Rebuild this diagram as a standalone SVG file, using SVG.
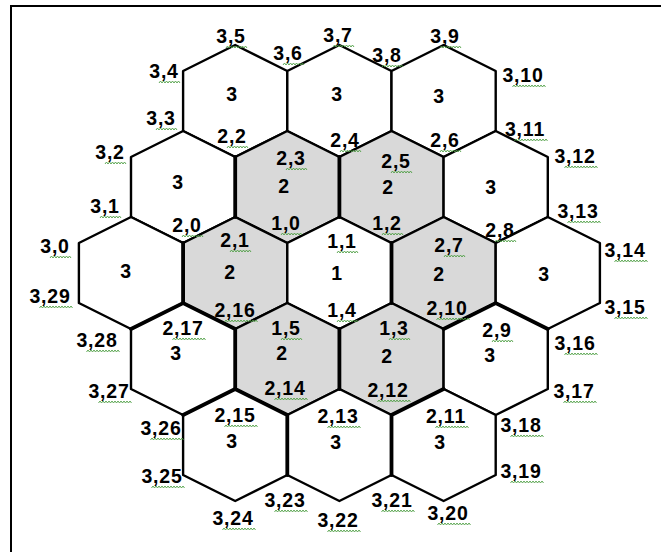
<svg xmlns="http://www.w3.org/2000/svg" xmlns:xlink="http://www.w3.org/1999/xlink" width="661" height="552" viewBox="0 0 661 552">
<style>
.hx{fill:#ffffff;stroke:#000;stroke-width:2.4;stroke-linejoin:round}
.g{fill:#d9d9d9}
.thick{fill:none;stroke:#000;stroke-width:3.8;stroke-linecap:round}
text{font-family:"Liberation Sans",Arial,sans-serif;font-weight:bold;font-size:19.5px;text-anchor:middle;letter-spacing:0.8px;fill:#000}
.sq{fill:none;stroke:#4f9f45;stroke-width:0.9}
</style>
<defs>
<path id="s2" class="sq" d="M0,2 l1.5,-2 l1.5,2 l1.5,-2 l1.5,2 l1.5,-2 l1.5,2 l1.5,-2 l1.5,2 l1.5,-2 l1.5,2 l1.5,-2 l1.5,2 l1.5,-2 l1.5,2"/>
<path id="s3" class="sq" d="M0,2 l1.5,-2 l1.5,2 l1.5,-2 l1.5,2 l1.5,-2 l1.5,2 l1.5,-2 l1.5,2 l1.5,-2 l1.5,2 l1.5,-2 l1.5,2 l1.5,-2 l1.5,2 l1.5,-2 l1.5,2 l1.5,-2 l1.5,2 l1.5,-2 l1.5,2 l1.5,-2 l1.5,2"/>
</defs>
<rect width="661" height="552" fill="#fff"/>
<path d="M11,700 V6 H700" fill="none" stroke="#000" stroke-width="2"/>

<!-- row 0 -->
<g id="hex-r0-a"><polygon class="hx" points="235.2,45 287.3,71 287.3,131 235.2,157 183.1,131 183.1,71"/><text x="232" y="101">3</text></g>
<g id="hex-r0-b"><polygon class="hx" points="339.4,45 391.5,71 391.5,131 339.4,157 287.3,131 287.3,71"/><text x="337" y="101">3</text></g>
<g id="hex-r0-c"><polygon class="hx" points="443.6,45 495.7,71 495.7,131 443.6,157 391.5,131 391.5,71"/><text x="439" y="103">3</text></g>
<!-- row 1 -->
<g id="hex-r1-a"><polygon class="hx" points="183.1,131 235.2,157 235.2,217 183.1,243 131,217 131,157"/><text x="178" y="189">3</text></g>
<g id="hex-r1-b"><polygon class="hx g" points="287.3,131 339.4,157 339.4,217 287.3,243 235.2,217 235.2,157"/><text x="284" y="193">2</text></g>
<g id="hex-r1-c"><polygon class="hx g" points="391.5,131 443.6,157 443.6,217 391.5,243 339.4,217 339.4,157"/><text x="388" y="194">2</text></g>
<g id="hex-r1-d"><polygon class="hx" points="495.7,131 547.8,157 547.8,217 495.7,243 443.6,217 443.6,157"/><text x="491" y="194">3</text></g>
<!-- row 2 -->
<g id="hex-r2-a"><polygon class="hx" points="131,217 183.1,243 183.1,303 131,329 78.9,303 78.9,243"/><text x="126" y="278">3</text></g>
<g id="hex-r2-b"><polygon class="hx g" points="235.2,217 287.3,243 287.3,303 235.2,329 183.1,303 183.1,243"/><text x="230" y="279">2</text></g>
<g id="hex-r2-c"><polygon class="hx" points="339.4,217 391.5,243 391.5,303 339.4,329 287.3,303 287.3,243"/><text x="337" y="280">1</text></g>
<g id="hex-r2-d"><polygon class="hx g" points="443.6,217 495.7,243 495.7,303 443.6,329 391.5,303 391.5,243"/><text x="439" y="281">2</text></g>
<g id="hex-r2-e"><polygon class="hx" points="547.8,217 599.9,243 599.9,303 547.8,329 495.7,303 495.7,243"/><text x="544" y="281">3</text></g>
<!-- row 3 -->
<g id="hex-r3-a"><polygon class="hx" points="183.1,303 235.2,329 235.2,389 183.1,415 131,389 131,329"/><text x="176" y="360">3</text></g>
<g id="hex-r3-b"><polygon class="hx g" points="287.3,303 339.4,329 339.4,389 287.3,415 235.2,389 235.2,329"/><text x="282" y="360">2</text></g>
<g id="hex-r3-c"><polygon class="hx g" points="391.5,303 443.6,329 443.6,389 391.5,415 339.4,389 339.4,329"/><text x="387" y="363">2</text></g>
<g id="hex-r3-d"><polygon class="hx" points="495.7,303 547.8,329 547.8,389 495.7,415 443.6,389 443.6,329"/><text x="490" y="362">3</text></g>
<!-- row 4 -->
<g id="hex-r4-a"><polygon class="hx" points="235.2,389 287.3,415 287.3,475 235.2,501 183.1,475 183.1,415"/><text x="232" y="448">3</text></g>
<g id="hex-r4-b"><polygon class="hx" points="339.4,389 391.5,415 391.5,475 339.4,501 287.3,475 287.3,415"/><text x="336" y="449">3</text></g>
<g id="hex-r4-c"><polygon class="hx" points="443.6,389 495.7,415 495.7,475 443.6,501 391.5,475 391.5,415"/><text x="440" y="449">3</text></g>

<g id="connectors" class="thick">
<path d="M235.2,157 V217"/>
<path d="M183.1,243 V303"/>
<path d="M339.4,157 V217"/>
<path d="M391.5,243 V303"/>
<path d="M131,329 L183.1,303 L235.2,329 V389 L287.3,415 V475"/>
<path d="M183.1,415 L235.2,389"/>
<path d="M339.4,329 V389"/>
<path d="M443.6,329 L495.7,303 L547.8,329"/>
<path d="M391.5,475 V415 L443.6,389"/>
</g>

<g id="labels">
<text x="55" y="253">3,0</text><use xlink:href="#s2" x="50" y="256"/>
<text x="105" y="213">3,1</text><use xlink:href="#s2" x="100" y="216"/>
<text x="110" y="159">3,2</text><use xlink:href="#s2" x="105" y="162"/>
<text x="161" y="125">3,3</text><use xlink:href="#s2" x="156" y="128"/>
<text x="164" y="78">3,4</text><use xlink:href="#s2" x="159" y="81"/>
<text x="231" y="43">3,5</text><use xlink:href="#s2" x="226" y="46"/>
<text x="288" y="60">3,6</text><use xlink:href="#s2" x="283" y="63"/>
<text x="338" y="42">3,7</text><use xlink:href="#s2" x="333" y="45"/>
<text x="387" y="62">3,8</text><use xlink:href="#s2" x="382" y="65"/>
<text x="445" y="43">3,9</text><use xlink:href="#s2" x="440" y="46"/>
<text x="523" y="82">3,10</text><use xlink:href="#s3" x="512.5" y="85"/>
<text x="525" y="136">3,11</text><use xlink:href="#s3" x="514.5" y="139"/>
<text x="575" y="163">3,12</text><use xlink:href="#s3" x="564.5" y="166"/>
<text x="578" y="218">3,13</text><use xlink:href="#s3" x="567.5" y="221"/>
<text x="625" y="257">3,14</text><use xlink:href="#s3" x="614.5" y="260"/>
<text x="625" y="314">3,15</text><use xlink:href="#s3" x="614.5" y="317"/>
<text x="575" y="350">3,16</text><use xlink:href="#s3" x="564.5" y="353"/>
<text x="574" y="398">3,17</text><use xlink:href="#s3" x="563.5" y="401"/>
<text x="521" y="432">3,18</text><use xlink:href="#s3" x="510.5" y="435"/>
<text x="521" y="478">3,19</text><use xlink:href="#s3" x="510.5" y="481"/>
<text x="448" y="520">3,20</text><use xlink:href="#s3" x="437.5" y="523"/>
<text x="392" y="507">3,21</text><use xlink:href="#s3" x="381.5" y="510"/>
<text x="338" y="527">3,22</text><use xlink:href="#s3" x="327.5" y="530"/>
<text x="285" y="507">3,23</text><use xlink:href="#s3" x="274.5" y="510"/>
<text x="233" y="525">3,24</text><use xlink:href="#s3" x="222.5" y="528"/>
<text x="162" y="483">3,25</text><use xlink:href="#s3" x="151.5" y="486"/>
<text x="161" y="435">3,26</text><use xlink:href="#s3" x="150.5" y="438"/>
<text x="109" y="398">3,27</text><use xlink:href="#s3" x="98.5" y="401"/>
<text x="97" y="347">3,28</text><use xlink:href="#s3" x="86.5" y="350"/>
<text x="50" y="303">3,29</text><use xlink:href="#s3" x="39.5" y="306"/>

<text x="187" y="232">2,0</text><use xlink:href="#s2" x="182" y="235"/>
<text x="235" y="247">2,1</text><use xlink:href="#s2" x="230" y="250"/>
<text x="232" y="143">2,2</text><use xlink:href="#s2" x="227" y="146"/>
<text x="291" y="165">2,3</text><use xlink:href="#s2" x="286" y="168"/>
<text x="345" y="147">2,4</text><use xlink:href="#s2" x="340" y="150"/>
<text x="396" y="168">2,5</text><use xlink:href="#s2" x="391" y="171"/>
<text x="445" y="147">2,6</text><use xlink:href="#s2" x="440" y="150"/>
<text x="449" y="252">2,7</text><use xlink:href="#s2" x="444" y="255"/>
<text x="500" y="237">2,8</text><use xlink:href="#s2" x="495" y="240"/>
<text x="497" y="337">2,9</text><use xlink:href="#s2" x="492" y="340"/>
<text x="447" y="315">2,10</text><use xlink:href="#s3" x="436.5" y="318"/>
<text x="446" y="423">2,11</text><use xlink:href="#s3" x="435.5" y="426"/>
<text x="388" y="397">2,12</text><use xlink:href="#s3" x="377.5" y="400"/>
<text x="338" y="423">2,13</text><use xlink:href="#s3" x="327.5" y="426"/>
<text x="285" y="395">2,14</text><use xlink:href="#s3" x="274.5" y="398"/>
<text x="235" y="422">2,15</text><use xlink:href="#s3" x="224.5" y="425"/>
<text x="235" y="317">2,16</text><use xlink:href="#s3" x="224.5" y="320"/>
<text x="183" y="335">2,17</text><use xlink:href="#s3" x="172.5" y="338"/>

<text x="286" y="230">1,0</text><use xlink:href="#s2" x="281" y="233"/>
<text x="342" y="248">1,1</text><use xlink:href="#s2" x="337" y="251"/>
<text x="387" y="230">1,2</text><use xlink:href="#s2" x="382" y="233"/>
<text x="394" y="335">1,3</text><use xlink:href="#s2" x="389" y="338"/>
<text x="342" y="317">1,4</text><use xlink:href="#s2" x="337" y="320"/>
<text x="286" y="335">1,5</text><use xlink:href="#s2" x="281" y="338"/>
</g>
</svg>
